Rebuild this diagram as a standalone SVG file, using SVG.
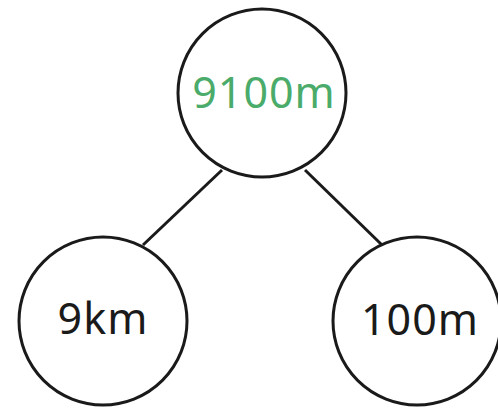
<svg xmlns="http://www.w3.org/2000/svg" width="498" height="408" viewBox="0 0 498 408">
<style>
.node circle{fill:#fff;stroke:#1a1a1a;stroke-width:3}
.lbl{font-family:"Noto Sans","Open Sans",sans-serif;font-size:43px;text-anchor:middle;letter-spacing:1px}
.conn line{stroke:#1a1a1a;stroke-width:3}
</style>
<rect width="498" height="408" fill="#fff"/>
<g id="connectors" class="conn">
<line x1="222" y1="170" x2="143" y2="245"/>
<line x1="305" y1="170" x2="382" y2="245"/>
</g>
<g id="node-top" class="node">
<circle cx="262" cy="93" r="84"/>
<text class="lbl" x="264" y="108" fill="#4aab6a">9100m</text>
</g>
<g id="node-left" class="node">
<circle cx="103" cy="321" r="84"/>
<text class="lbl" x="103" y="334" fill="#1a1a1a">9km</text>
</g>
<g id="node-right" class="node">
<circle cx="417" cy="321" r="84"/>
<text class="lbl" x="420" y="335" fill="#1a1a1a">100m</text>
</g>
</svg>
